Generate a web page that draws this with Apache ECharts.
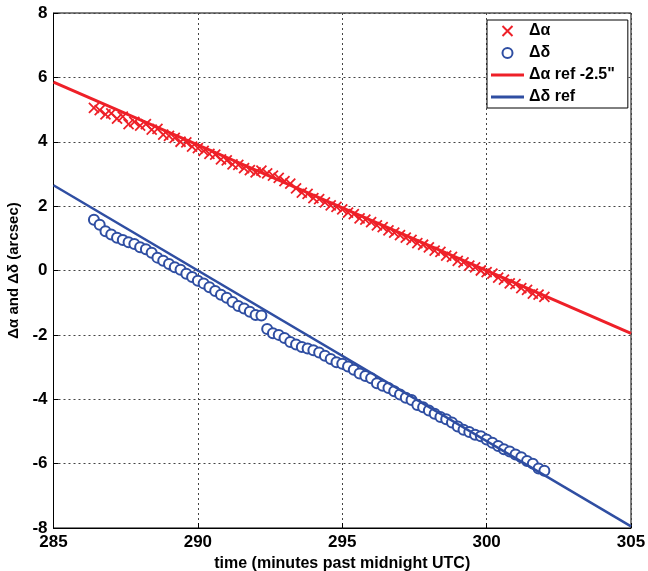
<!DOCTYPE html>
<html>
<head>
<meta charset="utf-8">
<script src="https://cdn.jsdelivr.net/npm/echarts@6/dist/echarts.min.js"></script>
<style>html,body{margin:0;padding:0;background:#fff}#c{width:648px;height:571px}</style>
</head>
<body>
<div id="c"></div>
<script>
// time (minutes past midnight UTC)
var tAlpha = [286.4,286.6,286.8,287.0,287.2,287.4,287.6,287.8,288.0,288.2,288.4,288.6,288.8,289.0,289.2,289.4,289.6,289.8,290.0,290.2,290.4,290.6,290.8,291.0,291.2,291.4,291.6,291.8,292.0,292.2,292.4,292.6,292.8,293.0,293.2,293.4,293.6,293.8,294.0,294.2,294.4,294.6,294.8,295.0,295.2,295.4,295.6,295.8,296.0,296.2,296.4,296.6,296.8,297.0,297.2,297.4,297.6,297.8,298.0,298.2,298.4,298.6,298.8,299.0,299.2,299.4,299.6,299.8,300.0,300.2,300.4,300.6,300.8,301.0,301.2,301.4,301.6,301.8,302.0];
var dAlpha = [5.05,4.98,4.85,4.88,4.72,4.78,4.55,4.62,4.50,4.55,4.38,4.40,4.22,4.18,4.12,4.00,3.98,3.85,3.80,3.72,3.62,3.60,3.45,3.42,3.30,3.28,3.18,3.12,3.05,3.10,3.02,2.95,2.88,2.78,2.70,2.55,2.42,2.38,2.25,2.22,2.12,2.02,1.98,1.90,1.80,1.75,1.62,1.58,1.50,1.40,1.35,1.25,1.18,1.10,1.02,0.95,0.85,0.80,0.72,0.62,0.58,0.46,0.42,0.30,0.25,0.15,0.10,0.00,-0.05,-0.10,-0.22,-0.28,-0.40,-0.42,-0.55,-0.60,-0.72,-0.75,-0.82];
var tDelta = tAlpha;
var dDelta = [1.58,1.42,1.22,1.12,1.02,0.95,0.88,0.82,0.72,0.66,0.55,0.40,0.30,0.20,0.10,0.02,-0.10,-0.20,-0.32,-0.40,-0.52,-0.64,-0.75,-0.85,-0.98,-1.10,-1.18,-1.28,-1.38,-1.40,-1.82,-1.95,-2.00,-2.10,-2.22,-2.30,-2.38,-2.42,-2.48,-2.55,-2.65,-2.75,-2.85,-2.90,-2.98,-3.08,-3.20,-3.28,-3.35,-3.50,-3.58,-3.65,-3.75,-3.85,-3.95,-4.02,-4.18,-4.25,-4.35,-4.45,-4.55,-4.62,-4.72,-4.85,-4.95,-5.02,-5.10,-5.15,-5.25,-5.35,-5.45,-5.55,-5.62,-5.72,-5.80,-5.92,-6.00,-6.15,-6.22];
var refT = [285, 305];
var refAlpha = [5.85, -1.95];
var refDelta = [2.65, -7.95];
var names = ['\u0394\u03b1', '\u0394\u03b4', '\u0394\u03b1 ref -2.5"', '\u0394\u03b4 ref'];

var RED = '#ee2028', BLUE = '#2f4ea2';
function zip(a, b) { return a.map(function (v, i) { return [v, b[i]]; }); }
var crossPath = 'path://M0,0L10,10M10,0L0,10';
var barPath = 'path://M0,0L40,0L40,3.6L0,3.6Z';
var FONT = 'Liberation Sans';

var chart = echarts.init(document.getElementById('c'), null, { renderer: 'canvas' });
chart.setOption({
  animation: false,
  backgroundColor: '#fff',
  textStyle: { fontFamily: FONT },
  grid: { left: 53.5, right: 17, top: 13, bottom: 43, show: true, borderColor: '#000', borderWidth: 1,
          containLabel: false, outerBoundsMode: 'none' },
  legend: {
    orient: 'vertical', left: 487, top: 20,
    backgroundColor: '#fff', borderColor: '#000', borderWidth: 1,
    padding: [3, 13, 3, 4], itemGap: 6, itemWidth: 33, itemHeight: 10,
    textStyle: { fontFamily: FONT, fontWeight: 'bold', fontSize: 16, color: '#000' },
    data: [
      { name: names[0], icon: crossPath, itemStyle: { color: 'transparent', borderColor: RED, borderWidth: 2, opacity: 1 } },
      { name: names[1], icon: 'circle', itemStyle: { color: '#fff', borderColor: BLUE, borderWidth: 2, opacity: 1 } },
      { name: names[2], icon: barPath, itemStyle: { color: RED, borderWidth: 0 } },
      { name: names[3], icon: barPath, itemStyle: { color: BLUE, borderWidth: 0 } }
    ]
  },
  xAxis: {
    type: 'value', min: 285, max: 305, interval: 5,
    name: 'time (minutes past midnight UTC)', nameLocation: 'middle', nameGap: 19,
    nameTextStyle: { fontFamily: FONT, fontWeight: 'bold', fontSize: 16, color: '#000' },
    axisLine: { show: true, onZero: false, lineStyle: { color: '#000' } },
    axisTick: { show: true, inside: true, length: 5, lineStyle: { color: '#000' } },
    axisLabel: { fontFamily: FONT, fontWeight: 'bold', fontSize: 17, color: '#000', margin: 6 },
    splitLine: { show: true, lineStyle: { color: '#444', type: [2, 3], width: 1 } }
  },
  yAxis: {
    type: 'value', min: -8, max: 8, interval: 2,
    name: '\u0394\u03b1 and \u0394\u03b4 (arcsec)', nameLocation: 'middle', nameGap: 30,
    nameTextStyle: { fontFamily: FONT, fontWeight: 'bold', fontSize: 15, color: '#000' },
    axisLine: { show: true, onZero: false, lineStyle: { color: '#000' } },
    axisTick: { show: true, inside: true, length: 5, lineStyle: { color: '#000' } },
    axisLabel: { fontFamily: FONT, fontWeight: 'bold', fontSize: 17, color: '#000', margin: 6 },
    splitLine: { show: true, lineStyle: { color: '#444', type: [2, 3], width: 1 } }
  },
  series: [
    { name: names[0], type: 'scatter', data: zip(tAlpha, dAlpha), symbol: crossPath, symbolSize: 10,
      itemStyle: { color: 'transparent', borderColor: RED, borderWidth: 1.8, opacity: 1 } },
    { name: names[1], type: 'scatter', data: zip(tDelta, dDelta), symbol: 'emptyCircle', symbolSize: 10,
      itemStyle: { color: BLUE, borderColor: BLUE, borderWidth: 1.8, opacity: 1 } },
    { name: names[2], type: 'line', data: zip(refT, refAlpha), symbol: 'none', color: RED,
      lineStyle: { color: RED, width: 3 } },
    { name: names[3], type: 'line', data: zip(refT, refDelta), symbol: 'none', color: BLUE,
      lineStyle: { color: BLUE, width: 2.5 } }
  ]
});
</script>
</body>
</html>
